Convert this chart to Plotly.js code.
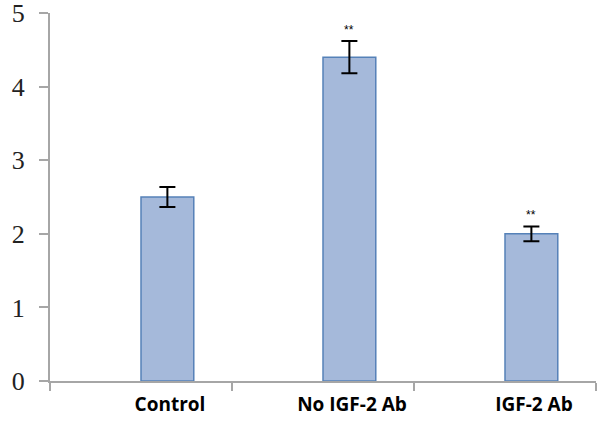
<!DOCTYPE html>
<html>
<head>
<meta charset="utf-8">
<script src="https://cdn.plot.ly/plotly-3.0.1.min.js"></script>
<style>html,body{margin:0;padding:0;background:#fff;}#chart{width:600px;height:421px;}</style>
</head>
<body>
<div id="chart"></div>
<script>
const categories = ["Control", "No IGF-2 Ab", "IGF-2 Ab"];
const values = [2.5, 4.4, 2.0];
const errors = [0.135, 0.22, 0.1];
const marks = ["", "**", "**"];
const yTicks = [0, 1, 2, 3, 4, 5];

const barWidth = 0.29;

const trace = {
  type: "bar",
  x: categories,
  y: values,
  width: barWidth,
  offset: 0,
  marker: { color: "#a5b9da", line: { color: "#5581b8", width: 1.5 } },
  error_y: { type: "data", array: errors, visible: true, color: "#000", thickness: 2, width: 8 },
  hoverinfo: "skip"
};

const annotations = marks.map((m, i) => ({
  x: i + barWidth / 2, y: values[i] + errors[i], xref: "x", yref: "y",
  text: m, showarrow: false, yanchor: "bottom", yshift: 2,
  font: { family: "Liberation Sans, Arial, sans-serif", size: 12, color: "#000" }
})).filter(a => a.text);

const layout = {
  width: 600, height: 421,
  margin: { l: 50, r: 4, t: 13, b: 40 },
  paper_bgcolor: "#fff", plot_bgcolor: "#fff",
  showlegend: false,
  bargap: 0,
  xaxis: {
    type: "category",
    range: [-0.5, 2.5],
    showgrid: false, zeroline: false,
    showline: true, linecolor: "#a6a6a6", linewidth: 2,
    ticks: "outside", tickson: "boundaries", ticklen: 8, tickcolor: "#a6a6a6", tickwidth: 2,
    ticklabelshift: 29,
    ticklabelstandoff: 5,
    ticklabeloverflow: "allow",
    tickfont: { family: "Open Sans, sans-serif", size: 19, color: "#000", weight: "bold" }
  },
  yaxis: {
    range: [0, 5],
    tickvals: yTicks,
    showgrid: false, zeroline: false,
    showline: true, linecolor: "#a6a6a6", linewidth: 2,
    ticks: "outside", ticklen: 9, tickcolor: "#a6a6a6", tickwidth: 2,
    ticklabelstandoff: 9,
    ticklabeloverflow: "allow",
    tickfont: { family: "Liberation Serif, DejaVu Serif, serif", size: 26, color: "#222" }
  },
  annotations: annotations
};

Plotly.newPlot("chart", [trace], layout, { displayModeBar: false, staticPlot: true });
</script>
</body>
</html>
